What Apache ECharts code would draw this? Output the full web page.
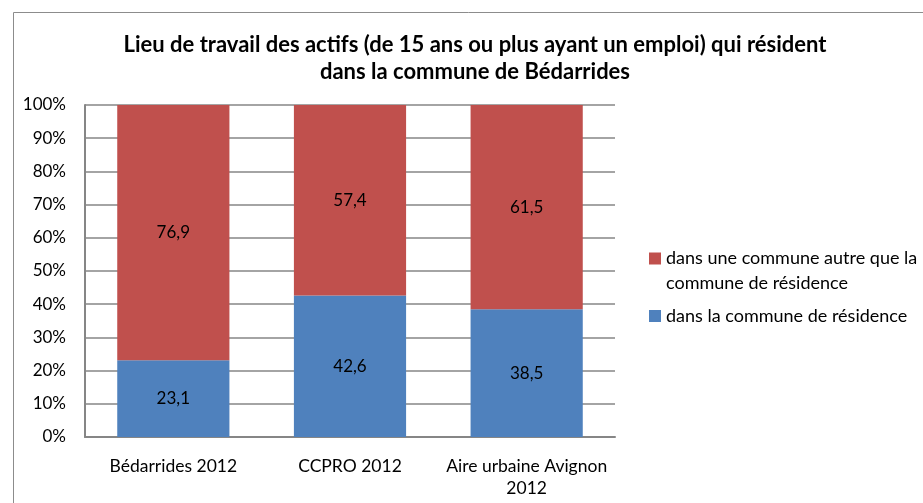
<!DOCTYPE html>
<html>
<head>
<meta charset="utf-8">
<title>Lieu de travail des actifs</title>
<script src="https://cdn.jsdelivr.net/npm/echarts@6/dist/echarts.min.js"></script>
<style>
  html, body { margin: 0; padding: 0; background: #fff; }
  #chart { width: 923px; height: 503px; }
</style>
</head>
<body>
<div id="chart"></div>
<script type="text/javascript">
  // données
  var categories = ['Bédarrides 2012', 'CCPRO 2012', 'Aire urbaine Avignon\n2012'];
  var dansCommune = [23.1, 42.6, 38.5];
  var autreCommune = [76.9, 57.4, 61.5];
  var serieNames = ['dans la commune de résidence', 'dans une commune autre que la commune de résidence'];
  var yTicks = [0, 10, 20, 30, 40, 50, 60, 70, 80, 90, 100];

  var police = 'Lato, "Open Sans", sans-serif';

  function virgule(v) {
    return String(v).replace('.', ',');
  }

  var myChart = echarts.init(document.getElementById('chart'));
  var option = {
    animation: false,
    textStyle: { fontFamily: police },
    title: {
      text: 'Lieu de travail des actifs (de 15 ans ou plus ayant un emploi) qui résident\ndans la commune de Bédarrides',
      left: 470,
      textAlign: 'center',
      top: 26,
      textStyle: {
        fontFamily: police,
        fontSize: 22,
        fontWeight: 'bold',
        color: '#000',
        lineHeight: 27
      }
    },
    graphic: [{
      type: 'rect',
      shape: { x: 13.5, y: 12.5, width: 1000, height: 600 },
      style: { fill: 'none', stroke: '#8c8c8c', lineWidth: 1 },
      silent: true
    }],
    legend: [{
      data: [serieNames[1]],
      left: 644,
      top: 216,
      orient: 'vertical',
      icon: 'rect',
      itemWidth: 12,
      itemHeight: 12,
      formatter: function(name) {
        // ligne vide en tête pour aligner le carré sur la première ligne
        return ' \ndans une commune autre que la\ncommune de résidence';
      },
      textStyle: { fontFamily: police, fontSize: 18, color: '#000', lineHeight: 25 }
    }, {
      data: [serieNames[0]],
      left: 644,
      top: 302,
      orient: 'vertical',
      icon: 'rect',
      itemWidth: 12,
      itemHeight: 12,
      textStyle: { fontFamily: police, fontSize: 18, color: '#000' }
    }],
    grid: {
      left: 85,
      right: 308,
      top: 105,
      bottom: 66,
      containLabel: false
    },
    xAxis: {
      type: 'category',
      data: categories,
      axisTick: { show: false },
      axisLine: { lineStyle: { color: '#868686', width: 2 } },
      axisLabel: {
        color: '#000',
        fontSize: 17.5,
        margin: 18,
        lineHeight: 22,
        interval: 0
      }
    },
    yAxis: {
      type: 'value',
      min: yTicks[0],
      max: yTicks[yTicks.length - 1],
      interval: 10,
      axisLine: { show: true, lineStyle: { color: '#868686', width: 2 } },
      axisTick: { show: false },
      splitLine: { lineStyle: { color: '#868686', width: 1.5 } },
      axisLabel: {
        color: '#000',
        fontSize: 17,
        margin: 19,
        formatter: '{value}%'
      }
    },
    series: [{
      name: serieNames[0],
      type: 'bar',
      stack: 'total',
      barWidth: '63.5%',
      data: dansCommune,
      itemStyle: { color: '#4F81BD' },
      label: {
        show: true,
        position: 'inside',
        color: '#000',
        fontSize: 17,
        formatter: function(p) { return virgule(p.value); }
      }
    }, {
      name: serieNames[1],
      type: 'bar',
      stack: 'total',
      barWidth: '63.5%',
      data: autreCommune,
      itemStyle: { color: '#C0504D' },
      label: {
        show: true,
        position: 'inside',
        color: '#000',
        fontSize: 17,
        formatter: function(p) { return virgule(p.value); }
      }
    }]
  };
  myChart.setOption(option);
</script>
</body>
</html>
